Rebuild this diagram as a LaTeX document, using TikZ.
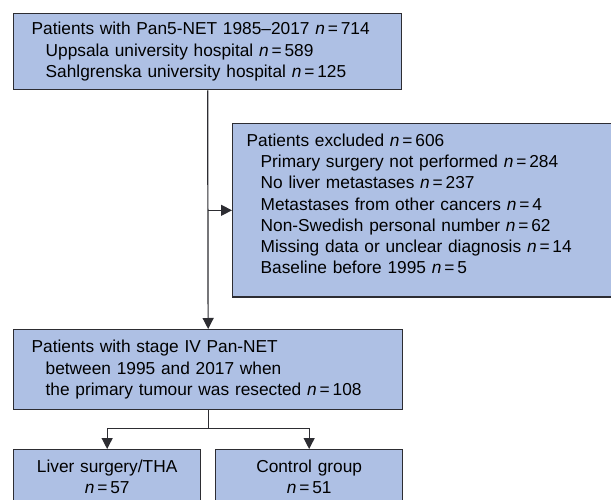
\documentclass[tikz,border=0pt]{standalone}
\usepackage{fontspec}
\setmainfont{Liberation Sans}
\usepackage{tikz}
\usetikzlibrary{arrows.meta}

\definecolor{boxblue}{RGB}{174,192,228}
\definecolor{edgegray}{RGB}{45,45,50}
\newcommand{\nn}[1]{\textit{n}\,=\,#1}
\newcommand{\ind}{\hspace*{14pt}}

\begin{document}
\begin{tikzpicture}[x=1pt,y=-1pt,
        box/.style={draw=edgegray,fill=boxblue,line width=1.3pt,inner xsep=0pt,inner ysep=0pt,
            font=\fontsize{17.3}{21.3}\selectfont},
        flow/.style={draw=edgegray,line width=1.2pt,-{Triangle[length=11pt,width=11pt]}}]
    \clip (0,0) rectangle (611,500);
    \fill[white] (0,0) rectangle (611,500);

    % boxes
    \node[box,anchor=north west,minimum width=388pt,minimum height=76pt,
        text width=352pt,align=left] (all) at (13,13)
        {Patients with Pan5-NET 1985--2017 \nn{714}\\
         \ind Uppsala university hospital \nn{589}\\
         \ind Sahlgrenska university hospital \nn{125}};
    \node[box,anchor=north west,minimum width=420pt,inner ysep=10pt,
        text width=392pt,align=left] (excl) at (232,123)
        {Patients excluded \nn{606}\\
         \ind Primary surgery not performed \nn{284}\\
         \ind No liver metastases \nn{237}\\
         \ind Metastases from other cancers \nn{4}\\
         \ind Non-Swedish personal number \nn{62}\\
         \ind Missing data or unclear diagnosis \nn{14}\\
         \ind Baseline before 1995 \nn{5}\rule[-13pt]{0pt}{1pt}};
    \node[box,anchor=north west,minimum width=389pt,minimum height=80pt,
        text width=353pt,align=left] (study) at (13,329)
        {Patients with stage IV Pan-NET\\
         \ind between 1995 and 2017 when\\
         \ind the primary tumour was resected \nn{108}};
    \node[box,anchor=north west,minimum width=187pt,inner ysep=10pt,
        text width=187pt,align=center] (surg) at (13,449)
        {Liver surgery/THA\\ \nn{57}\rule[-12pt]{0pt}{1pt}};
    \node[box,anchor=north west,minimum width=187pt,inner ysep=10pt,
        text width=187pt,align=center] (ctrl) at (215,449)
        {Control group\\ \nn{51}\rule[-12pt]{0pt}{1pt}};

    % connectors
    \draw[flow] (all.south) -- (study.north);
    \draw[flow] (all.south |- excl.west) -- (excl.west);
    \coordinate (split) at ([yshift=-18pt]study.south);
    \draw[draw=edgegray,line width=1.2pt] (study.south) -- (split);
    \draw[flow] (split) -| (surg.north);
    \draw[flow] (split) -| (ctrl.north);
\end{tikzpicture}
\end{document}
